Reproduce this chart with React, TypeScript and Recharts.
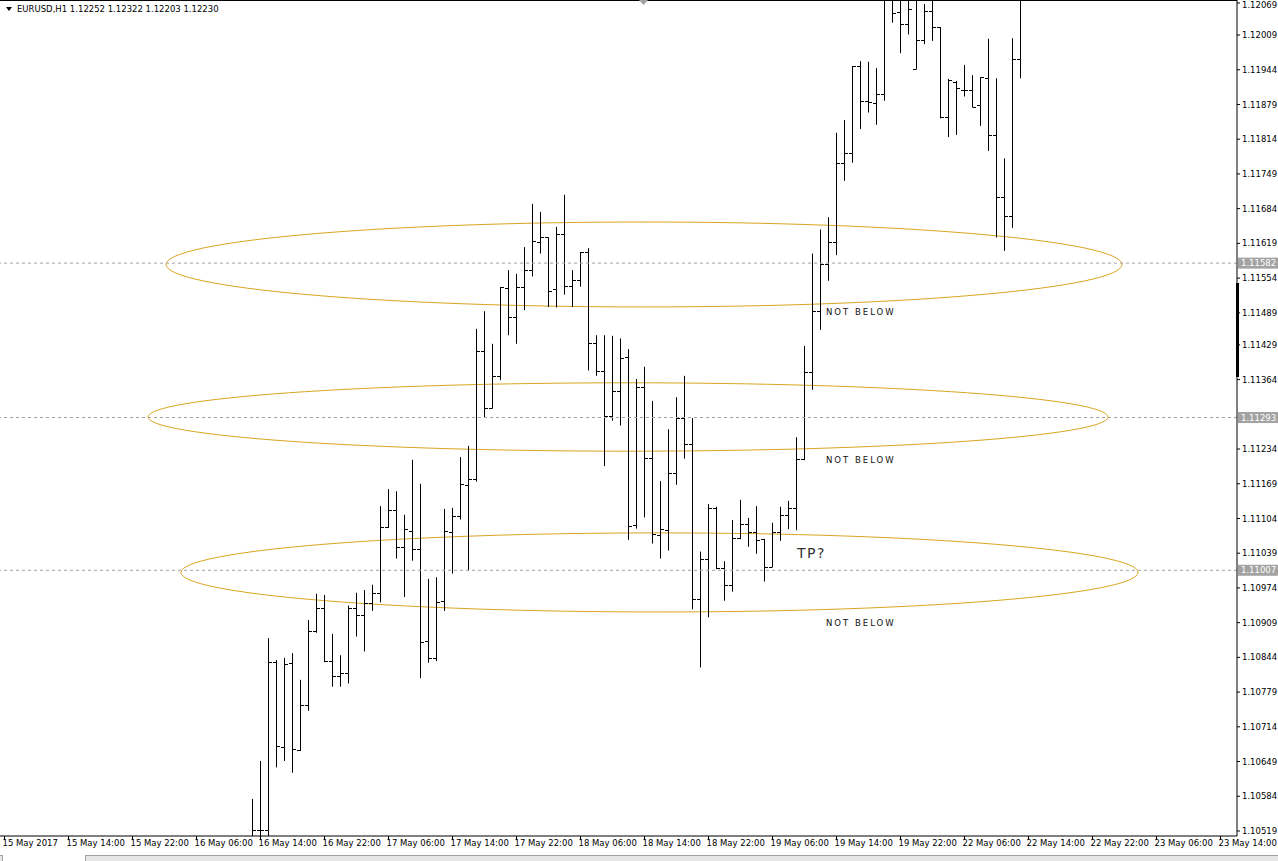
import React from 'react'
import {
  ComposedChart,
  Bar,
  XAxis,
  YAxis,
  ReferenceLine,
  ReferenceArea,
  ReferenceDot,
} from 'recharts'

// EURUSD H1 (MT4 bar chart), 15 – 23 May 2017

const tradingDays = ['15 May', '16 May', '17 May', '18 May', '19 May', '22 May', '23 May']
const firstSlotHour = 6 // left edge of the chart is 15 May 06:00
const slotCount = 154

const xTickLabels = [
  '15 May 2017', '15 May 14:00', '15 May 22:00', '16 May 06:00', '16 May 14:00',
  '16 May 22:00', '17 May 06:00', '17 May 14:00', '17 May 22:00', '18 May 06:00',
  '18 May 14:00', '18 May 22:00', '19 May 06:00', '19 May 14:00', '19 May 22:00',
  '22 May 06:00', '22 May 14:00', '22 May 22:00', '23 May 06:00', '23 May 14:00',
]

// hourly bars from 16 May 13:00 on
const firstBar = '16 May 13:00'
const opens = [
  1.10493, 1.10521, 1.1052, 1.10835, 1.10676, 1.10833, 1.10671, 1.10755, 1.10893, 1.10936,
  1.10837, 1.1081, 1.10814, 1.10936, 1.10923, 1.10945, 1.10965, 1.11088, 1.11119, 1.1105,
  1.11081, 1.11047, 1.10874, 1.10842, 1.10949, 1.11079, 1.11109, 1.11166, 1.11178, 1.11418,
  1.1131, 1.11371, 1.11535, 1.11481, 1.11537, 1.11569, 1.11622, 1.1163, 1.11533, 1.11637,
  1.11539, 1.1155, 1.11603, 1.11432, 1.1138, 1.11295, 1.11342, 1.11406, 1.11092, 1.11351,
  1.11217, 1.11073, 1.11082, 1.1119, 1.11293, 1.11243, 1.10954, 1.11029, 1.11123, 1.11011,
  1.10979, 1.11067, 1.11094, 1.11078, 1.11065, 1.11013, 1.11078, 1.11111, 1.11124, 1.11215,
  1.11379, 1.11493, 1.1158, 1.11622, 1.11769, 1.11788, 1.11951, 1.11886, 1.11882, 1.11898,
  1.12095, 1.12052, 1.12029, 1.11945, 1.12, 1.12054, 1.12024, 1.11856, 1.11922, 1.11907,
  1.11906, 1.11878, 1.11929, 1.11822, 1.11706, 1.1167, 1.11965, 1.12252,
]
const highs = [
  1.10579, 1.1065, 1.1088, 1.10839, 1.10843, 1.10852, 1.10802, 1.10914, 1.10963, 1.10961,
  1.10888, 1.10848, 1.10941, 1.10965, 1.1097, 1.1098, 1.11127, 1.11159, 1.11155, 1.11111,
  1.11214, 1.11169, 1.10991, 1.10994, 1.11122, 1.11124, 1.11219, 1.1124, 1.11459, 1.11492,
  1.11431, 1.11537, 1.11569, 1.11562, 1.11612, 1.11693, 1.11678, 1.1163, 1.1165, 1.1171,
  1.11569, 1.11603, 1.1161, 1.11447, 1.11447, 1.11446, 1.11441, 1.11421, 1.11365, 1.11388,
  1.11324, 1.11174, 1.11271, 1.11331, 1.11371, 1.11292, 1.11042, 1.11131, 1.11126, 1.11024,
  1.11101, 1.11139, 1.11105, 1.11127, 1.11066, 1.11096, 1.11126, 1.11137, 1.11256, 1.11427,
  1.116, 1.11645, 1.11668, 1.11826, 1.1185, 1.11951, 1.1196, 1.11959, 1.11947, 1.1211,
  1.1212, 1.12105, 1.121, 1.1209, 1.12067, 1.12085, 1.12024, 1.11927, 1.11923, 1.11953,
  1.11934, 1.1193, 1.12002, 1.11928, 1.11778, 1.12003, 1.1229, 1.12322,
]
const lows = [
  1.10483, 1.1049, 1.10493, 1.10638, 1.1065, 1.10628, 1.10669, 1.10744, 1.1089, 1.10835,
  1.10789, 1.10789, 1.10795, 1.10883, 1.10855, 1.10931, 1.10947, 1.11086, 1.11029, 1.10957,
  1.11025, 1.10805, 1.10834, 1.10837, 1.10931, 1.11001, 1.11102, 1.11006, 1.11173, 1.11292,
  1.1131, 1.11363, 1.11447, 1.11431, 1.11494, 1.11557, 1.116, 1.115, 1.11499, 1.11523,
  1.115, 1.11538, 1.11381, 1.11371, 1.11202, 1.11287, 1.11278, 1.11064, 1.11085, 1.11106,
  1.11057, 1.11029, 1.11044, 1.11167, 1.11216, 1.10934, 1.10825, 1.10919, 1.11009, 1.1095,
  1.10967, 1.11065, 1.11051, 1.11038, 1.10986, 1.11013, 1.11062, 1.11084, 1.11082, 1.11213,
  1.11345, 1.11457, 1.11549, 1.11597, 1.11736, 1.1177, 1.11833, 1.11864, 1.11841, 1.11886,
  1.12032, 1.11975, 1.1201, 1.11945, 1.11992, 1.11998, 1.11853, 1.11818, 1.11822, 1.11894,
  1.11874, 1.11839, 1.11792, 1.1163, 1.11605, 1.11648, 1.11928, 1.12203,
]
const closes = [
  1.1052, 1.1052, 1.10835, 1.10678, 1.10832, 1.10673, 1.10755, 1.10893, 1.10936, 1.10838,
  1.1081, 1.10815, 1.10936, 1.10923, 1.10945, 1.10965, 1.11088, 1.11119, 1.1105, 1.11084,
  1.11046, 1.10873, 1.10842, 1.10947, 1.11081, 1.11109, 1.11169, 1.11178, 1.11418, 1.1131,
  1.11371, 1.11537, 1.11481, 1.11537, 1.11569, 1.11623, 1.1163, 1.1153, 1.11637, 1.11539,
  1.1155, 1.11602, 1.11432, 1.1138, 1.11296, 1.11342, 1.11404, 1.11089, 1.11351, 1.11217,
  1.11075, 1.11084, 1.1119, 1.11293, 1.11243, 1.10953, 1.11029, 1.11124, 1.11011, 1.10979,
  1.11067, 1.11094, 1.11078, 1.11063, 1.11013, 1.11079, 1.11111, 1.11124, 1.11215, 1.11379,
  1.11493, 1.1158, 1.11622, 1.11769, 1.11788, 1.11951, 1.11886, 1.11883, 1.11898, 1.12095,
  1.12051, 1.12029, 1.12057, 1.12, 1.12054, 1.12024, 1.11855, 1.11925, 1.11909, 1.11906,
  1.11875, 1.1193, 1.11822, 1.11706, 1.1167, 1.11965, 1.12252, 1.1223,
]

const yTicks = [
  1.12069, 1.12009, 1.11944, 1.11879, 1.11814, 1.11749, 1.11684, 1.11619, 1.11554, 1.11489,
  1.11429, 1.11364, 1.11234, 1.11169, 1.11104, 1.11039, 1.10974, 1.10909, 1.10844, 1.10779,
  1.10714, 1.10649, 1.10584, 1.10519,
]
const yDomain = [1.105096, 1.120746]

// horizontal levels (dashed lines with price tags)
const levels = [1.11582, 1.11293, 1.11007]

// ellipse objects, x in bar slots from the left edge (fractional)
const ellipseFrom = [20.69, 18.44, 22.56]
const ellipseTo = [140.19, 138.44, 142.19]
const ellipseTop = [1.11659, 1.11358, 1.11077]
const ellipseBottom = [1.115, 1.1123, 1.10929]

// text objects (anchored at a bar slot)
const noteSlot = 103
const notePrices = [1.11491, 1.11214, 1.10908]
const tpSlot = 99
const tpPrice = 1.11039

const FONT = 'DejaVu Sans'
const ORANGE = '#DAA520'

const slots: string[] = []
tradingDays.forEach((d, di) => {
  for (let h = di === 0 ? firstSlotHour : 0; h < 24; h++) {
    slots.push(`${d} ${String(h).padStart(2, '0')}:00`)
  }
})
slots.length = slotCount

const start = slots.indexOf(firstBar)
const data = slots.map((t, i) => {
  const k = i - start
  if (k < 0 || k >= opens.length) return { t }
  return { t, o: opens[k], h: highs[k], l: lows[k], c: closes[k], range: [lows[k], highs[k]] }
})

function OhlcBar(props: any) {
  const { x, y, width, height, payload } = props
  if (!payload || payload.o == null) return null
  const { o, h, l, c } = payload
  const span = h - l
  const py = (v: number) => (span > 0 ? y + ((h - v) / span) * height : y)
  const cx = Math.floor(x + width / 2) + 0.5
  const oy = Math.round(py(o)) + 0.5
  const cy = Math.round(py(c)) + 0.5
  return (
    <g stroke="#000" strokeWidth={1}>
      <line x1={cx} x2={cx} y1={y} y2={y + Math.max(height, 1)} />
      <line x1={cx - 3.5} x2={cx} y1={oy} y2={oy} />
      <line x1={cx} x2={cx + 3.5} y1={cy} y2={cy} />
    </g>
  )
}

function TimeTick(props: any) {
  const { x, y, payload } = props
  const k = Math.round(slots.indexOf(payload.value) / 8)
  const label = xTickLabels[k]
  if (!label) return null
  return (
    <text x={x - 2} y={y} dy="0.72em" fontSize={8.5} fontFamily={FONT} fill="#000">
      {label}
    </text>
  )
}

function PriceTick(props: any) {
  const { x, y, payload } = props
  return (
    <text x={x} y={Math.max(y, 4.5)} dy="0.36em" fontSize={8.5} fontFamily={FONT} fill="#000">
      {Number(payload.value).toFixed(5)}
    </text>
  )
}

function PriceTag(props: any) {
  const { viewBox, text } = props
  if (!viewBox) return null
  const x = viewBox.x + viewBox.width + 1
  const y = viewBox.y
  return (
    <g>
      <rect x={x} y={y - 5.5} width={40} height={11} fill="#A3A3A3" />
      <text x={x + 3} y={y} dy="0.36em" fontSize={8.5} fontFamily={FONT} fill="#fff">
        {text}
      </text>
    </g>
  )
}

// ellipse inside the band range [floor(from), floor(to)], trimmed to the fractional slot ends
function EllipseShape(props: any) {
  const { x, y, width, height, fromSlot, toSlot } = props
  const i1 = Math.floor(fromSlot)
  const i2 = Math.floor(toSlot)
  const band = width / (i2 - i1 + 1)
  const left = x + (fromSlot - i1) * band
  const right = x + (toSlot - i1) * band
  return (
    <ellipse
      cx={(left + right) / 2}
      cy={y + height / 2}
      rx={Math.abs(right - left) / 2}
      ry={Math.abs(height) / 2}
      fill="none"
      stroke={ORANGE}
      strokeWidth={1}
    />
  )
}

export default function App() {
  return (
    <div
      style={{
        position: 'fixed',
        left: 0,
        top: 0,
        width: 1278,
        height: 861,
        background: '#fff',
        overflow: 'hidden',
        fontFamily: FONT,
      }}
    >
      <ComposedChart
        width={1278}
        height={861}
        data={data}
        margin={{ top: 0, right: 0, bottom: 5, left: 0 }}
        barCategoryGap="10%"
      >
        <XAxis
          dataKey="t"
          interval={7}
          height={20}
          padding={{ left: 0.5, right: 4.5 }}
          axisLine={{ stroke: '#000' }}
          tickLine={{ stroke: '#000' }}
          tickSize={4}
          tickMargin={0}
          tick={<TimeTick />}
        />
        <YAxis
          orientation="right"
          width={41}
          type="number"
          domain={yDomain}
          allowDataOverflow
          ticks={yTicks}
          interval={0}
          axisLine={{ stroke: '#000' }}
          tickLine={{ stroke: '#000' }}
          tickSize={3}
          tickMargin={2}
          tick={<PriceTick />}
        />
        {levels.map((lv) => (
          <ReferenceLine
            key={lv}
            y={lv}
            stroke="#A0A0A0"
            strokeDasharray="3 3"
            label={(p: any) => <PriceTag {...p} text={lv.toFixed(5)} />}
          />
        ))}
        {ellipseFrom.map((v1, i) => (
          <ReferenceArea
            key={i}
            x1={slots[Math.floor(v1)]}
            x2={slots[Math.floor(ellipseTo[i])]}
            y1={ellipseBottom[i]}
            y2={ellipseTop[i]}
            shape={<EllipseShape fromSlot={v1} toSlot={ellipseTo[i]} />}
          />
        ))}
        <Bar dataKey="range" isAnimationActive={false} shape={<OhlcBar />} />
        {notePrices.map((p, i) => (
          <ReferenceDot
            key={i}
            x={slots[noteSlot]}
            y={p}
            r={1}
            shape={(s: any) => (
              <text
                x={s.cx}
                y={s.cy}
                dx={-2.5}
                dy="0.36em"
                fontSize={8.5}
                fontFamily={FONT}
                letterSpacing={2}
                fill="#111"
              >
                NOT BELOW
              </text>
            )}
          />
        ))}
        <ReferenceDot
          x={slots[tpSlot]}
          y={tpPrice}
          r={1}
          shape={(s: any) => (
            <text x={s.cx} y={s.cy} dx={0.5} dy="0.36em" fontSize={14} fontFamily={FONT} letterSpacing={1.5} fill="#333">
              TP?
            </text>
          )}
        />
      </ComposedChart>

      {/* chart window decorations */}
      <div style={{ position: 'absolute', left: 0, top: 0, width: 1237, height: 1, background: '#000' }} />
      <svg style={{ position: 'absolute', left: 0, top: 0 }} width={1278} height={20}>
        <polygon points="6,7 12,7 9,11" fill="#000" />
        <polygon points="639,0 648,0 643.5,5" fill="#A0A0A0" />
        <text x={17} y={12} fontSize={8.5} fontFamily={FONT} fill="#000">
          EURUSD,H1  1.12252 1.12322 1.12203 1.12230
        </text>
      </svg>
      <div style={{ position: 'absolute', left: 1236, top: 283, width: 3, height: 94, background: '#000' }} />
      <div style={{ position: 'absolute', left: 0, top: 855, width: 1278, height: 6, background: '#E6E6E6', borderTop: '1px solid #A0A0A0' }} />
      <div style={{ position: 'absolute', left: 2, top: 855, width: 82, height: 6, background: '#fff', borderLeft: '1px solid #A0A0A0', borderRight: '1px solid #A0A0A0' }} />
    </div>
  )
}
